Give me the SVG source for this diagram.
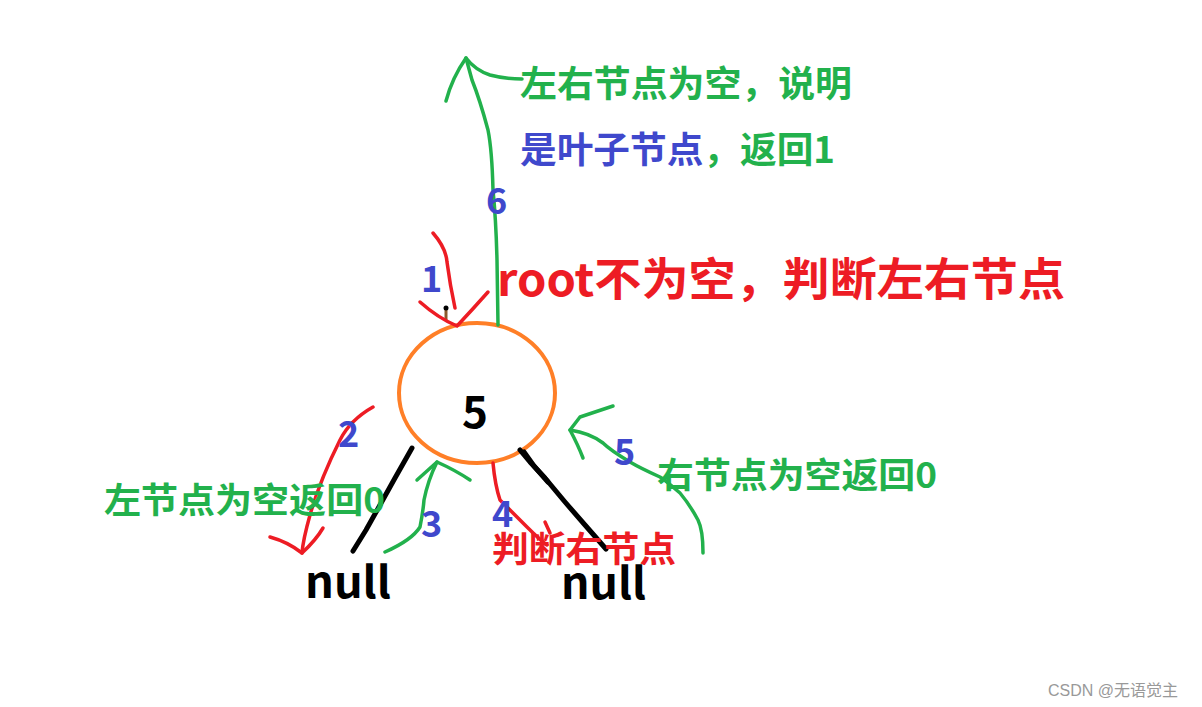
<svg xmlns="http://www.w3.org/2000/svg" width="1202" height="707" viewBox="0 0 1202 707">
<style>
.t{font-family:"Microsoft YaHei","Noto Sans CJK SC",sans-serif;font-weight:bold}
.g{fill:#22b14c}.b{fill:#3f48cc}.r{fill:#ed1c24}.k{fill:#000}
.sg{fill:none;stroke:#22b14c;stroke-width:3.5;stroke-linecap:round;stroke-linejoin:round}
.sr{fill:none;stroke:#ed1c24;stroke-width:3.5;stroke-linecap:round;stroke-linejoin:round}
.sk{fill:none;stroke:#000;stroke-width:5;stroke-linecap:round;stroke-linejoin:round}
</style>
<rect width="1202" height="707" fill="#fff"/>
<g id="node-root">
<ellipse cx="477" cy="393" rx="78" ry="70" fill="none" stroke="#ff7f27" stroke-width="4"/>
<text class="t k" x="475" y="428" font-size="44" text-anchor="middle">5</text>
</g>
<g id="node-null-left"><text class="t k" x="305" y="598" font-size="44" textLength="86" lengthAdjust="spacingAndGlyphs">null</text></g>
<g id="node-null-right"><text class="t k" x="561" y="599" font-size="44" textLength="85" lengthAdjust="spacingAndGlyphs">null</text></g>
<g id="connectors">
<path class="sk" d="M412,448 L395,478 L380,505 L366,530 L353,551"/>
<path class="sk" d="M520,450 L530,462 L545,478 L565,502 L585,525 L606,549"/>
<path class="sk" d="M524,452 L534,466 L548,482" stroke-width="3"/>
<path d="M446,307 L446,320" stroke="#8b5a2b" stroke-width="3"/>
<circle cx="446" cy="308" r="2.5" fill="#000"/>
<!-- 1 -->
<path class="sr" d="M433,233 Q446,248 447,262 Q450,285 455,308"/>
<path class="sr" d="M420,302 Q438,318 457,326 Q472,310 488,292"/>
<!-- 2 -->
<path class="sr" d="M373,407 Q350,420 340,440 Q320,480 310,515 Q303,540 302,553"/>
<path class="sr" d="M270,537 Q288,542 302,553 Q316,540 323,528"/>
<!-- 3 -->
<path class="sg" d="M385,552 Q412,540 420,527 Q423,512 424,500 Q428,480 437,462"/>
<path class="sg" d="M417,480 L437,462 Q455,470 470,480"/>
<!-- 4 -->
<path class="sr" d="M493,463 Q495,485 500,500 Q515,515 527,527 Q540,540 547,545"/>
<path class="sr" d="M545,522 L550,533"/>
<!-- 5 -->
<path class="sg" d="M703,553 Q703,530 698,520 Q690,505 680,493 Q665,480 660,477 Q640,468 630,462 Q610,450 603,443 Q590,433 570,430"/>
<path class="sg" d="M613,406 Q595,412 580,417 L570,430 Q578,445 583,458"/>
<!-- 6 -->
<path class="sg" d="M498,325 L497,260 Q496,220 493,190 Q492,150 488,130 Q480,100 472,80 L466,58"/>
<path class="sg" d="M446,101 Q452,78 466,58 Q475,70 490,75 Q505,79 522,79"/>
</g>
<g id="labels">
<text class="t b" x="421" y="292" font-size="36">1</text>
<text class="t b" x="338" y="447" font-size="36">2</text>
<text class="t b" x="421" y="537" font-size="36">3</text>
<text class="t b" x="492" y="527" font-size="36">4</text>
<text class="t b" x="614" y="465" font-size="36">5</text>
<text class="t b" x="486" y="214" font-size="36">6</text>
<text class="t g" x="520" y="97" font-size="36" textLength="332" lengthAdjust="spacingAndGlyphs">左右节点为空，说明</text>
<text class="t" x="520" y="163" font-size="36" textLength="315" lengthAdjust="spacingAndGlyphs"><tspan class="b">是叶子节点</tspan><tspan class="g">，返回1</tspan></text>
<text class="t r" x="497" y="296" font-size="45" textLength="568" lengthAdjust="spacingAndGlyphs">root不为空，判断左右节点</text>
<text class="t g" x="104" y="513" font-size="35" textLength="281" lengthAdjust="spacingAndGlyphs">左节点为空返回0</text>
<text class="t g" x="657" y="488" font-size="35" textLength="280" lengthAdjust="spacingAndGlyphs">右节点为空返回0</text>
<text class="t r" x="492" y="562" font-size="35" textLength="184" lengthAdjust="spacingAndGlyphs">判断右节点</text>
<text x="1048" y="696" font-family="'Liberation Sans','Noto Sans CJK SC',sans-serif" font-size="16" fill="#999">CSDN @无语觉主</text>
</g>
</svg>
